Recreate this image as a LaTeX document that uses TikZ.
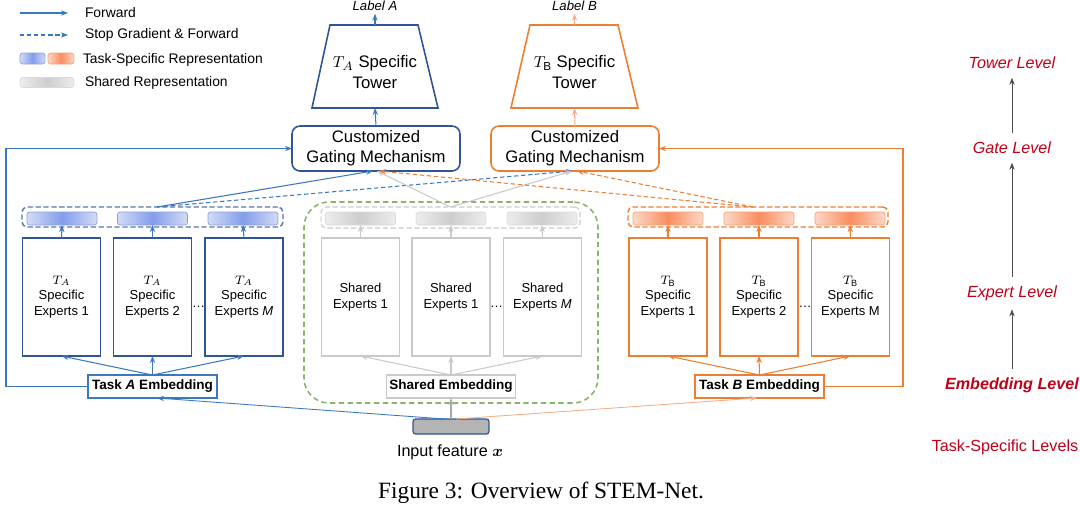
\documentclass[tikz,border=0pt]{standalone}
\usepackage{amsmath}
\usepackage{fontspec}
\setmainfont{Liberation Sans}
\newfontfamily\capfont{Liberation Serif}
\usetikzlibrary{shapes,shapes.geometric,arrows.meta}

\definecolor{blueL}{HTML}{3B78C2}
\definecolor{blueD}{HTML}{2F5597}
\definecolor{orgL}{HTML}{ED7D31}
\definecolor{orgP}{HTML}{F5AE85}
\definecolor{grayA}{HTML}{A9A9A9}
\definecolor{grayB}{HTML}{C9C9C9}
\definecolor{greenD}{HTML}{8CB369}
\definecolor{lvred}{HTML}{C00018}
\definecolor{repBlueE}{HTML}{D3DBF6}
\definecolor{repBlueM}{HTML}{829DEB}
\definecolor{repBlueB}{HTML}{8EA2D6}
\definecolor{repOrgE}{HTML}{FDD9C8}
\definecolor{repOrgM}{HTML}{FA8C5E}
\definecolor{repOrgB}{HTML}{F3A27A}
\definecolor{repGrayE}{HTML}{EDEDED}
\definecolor{repGrayM}{HTML}{CDCDCD}
\definecolor{repGrayB}{HTML}{D9D9D9}
\definecolor{inpFill}{HTML}{B4B4B4}

\begin{document}
\begin{tikzpicture}[x=0.02cm,y=-0.02cm]
	\tikzstyle{every node}=[inner sep=0pt, outer sep=0pt]
	\tikzstyle{fwd}=[-{Stealth[length=4pt,width=3pt]}, line width=0.6pt]
	\tikzstyle{sgf}=[fwd, dash pattern=on 2.5pt off 1.5pt]
	\tikzstyle{expbox}=[draw, line width=0.8pt, minimum width=1.56cm, minimum height=2.36cm, align=center, font=\fontsize{7.4}{9}\selectfont]
	\tikzstyle{repbox}=[draw, rounded corners=1.5pt, minimum width=1.4cm, minimum height=0.26cm, line width=0.4pt]
	\tikzstyle{grpbox}=[draw, rounded corners=0.1cm, dash pattern=on 3pt off 1.5pt, line width=0.8pt, minimum height=0.4cm]
	\tikzstyle{embbox}=[draw, fill=white, line width=0.8pt, minimum width=2.58cm, minimum height=0.46cm, font=\fontsize{7.7}{9}\selectfont\bfseries]
	\tikzstyle{gatebox}=[draw, line width=0.9pt, rounded corners=0.16cm, minimum width=3.36cm, minimum height=0.9cm, align=center, font=\fontsize{9.5}{11.5}\selectfont]
	\tikzstyle{towerbox}=[minimum width=2.52cm, minimum height=1.66cm]
	\tikzstyle{towerline}=[line width=0.9pt, line join=miter]
	\tikzstyle{towertxt}=[align=center, font=\fontsize{9.5}{11.5}\selectfont]
	\tikzstyle{legtxt}=[anchor=west, font=\fontsize{7.9}{9}\selectfont]
	\tikzstyle{lvl}=[text=lvred, font=\fontsize{9.2}{11}\selectfont\itshape]
	\tikzstyle{lvlarr}=[-{Stealth[length=4pt,width=3pt]}, line width=0.5pt, black!70, shorten <=5pt, shorten >=5pt]

	\useasboundingbox (0,0) rectangle (1080,512);

	%% legend
	\coordinate (lgA1) at (20,13);
	\coordinate (lgA2) at (68,13);
	\coordinate (lgB1) at (20,35);
	\coordinate (lgB2) at (68,35);
	\draw [fwd, blueL] (lgA1) -- (lgA2);
	\draw [sgf, blueL] (lgB1) -- (lgB2);
	\node [legtxt] (lgFwd) at (85,13) {Forward};
	\node [legtxt] (lgStop) at (85,35) {Stop Gradient \& Forward};
	\node [repbox, draw=repBlueB, left color=repBlueE, right color=repBlueE, middle color=repBlueM, minimum width=0.5cm, minimum height=0.22cm] (lgBlue) at (32.5,58.5) {};
	\node [repbox, draw=repOrgB, left color=repOrgE, right color=repOrgE, middle color=repOrgM, minimum width=0.52cm, minimum height=0.22cm] (lgOrg) at (61,58.5) {};
	\node [legtxt] (lgTask) at (83,59.5) {Task-Specific Representation};
	\node [repbox, draw=repGrayB, left color=repGrayE, right color=repGrayE, middle color=repGrayM, minimum width=1.08cm, minimum height=0.2cm] (lgGray) at (47,82.5) {};
	\node [legtxt] (lgShared) at (85,83) {Shared Representation};

	%% towers and gates
	\node [font=\fontsize{7.5}{9}\selectfont\itshape, anchor=base] (labA) at (375,10) {Label A};
	\node [font=\fontsize{7.5}{9}\selectfont\itshape, anchor=base] (labB) at (574.5,10) {Label B};
	\node [towerbox] (towerA) at (375,66.5) {};
	\draw [towerline, blueD] (330,25) -- (418,25) -- (438,108) -- (312,108) -- cycle;
	\node [towertxt] (towerAt) at (375,72) {$T_A$ Specific\\Tower};
	\node [towerbox] (towerB) at (574.5,66.5) {};
	\draw [towerline, orgL] (530,25) -- (618,25) -- (638,108) -- (511,108) -- cycle;
	\node [towertxt] (towerBt) at (574.5,72) {$T_{\mathrm{B}}$ Specific\\Tower};
	\node [gatebox, draw=blueD] (gateA) at (376,148.5) {Customized\\Gating Mechanism};
	\node [gatebox, draw=orgL] (gateB) at (575,148.5) {Customized\\Gating Mechanism};

	%% shared area
	\node [draw=greenD, dash pattern=on 3pt off 2pt, line width=0.9pt, rounded corners=0.5cm, minimum width=5.88cm, minimum height=4.02cm] (shArea) at (451,302.5) {};

	%% representation groups
	\node [grpbox, draw=blueD!80, minimum width=5.22cm] (grpA) at (152.5,217) {};
	\node [grpbox, draw=grayB, line width=0.6pt, minimum width=5.18cm, minimum height=0.42cm] (grpS) at (450.5,217.5) {};
	\node [grpbox, draw=orgL, minimum width=5.2cm] (grpB) at (758,217) {};

	\node [repbox, draw=repBlueB, left color=repBlueE, right color=repBlueE, middle color=repBlueM] (repA1) at (62,218.5) {};
	\node [repbox, draw=repBlueB, left color=repBlueE, right color=repBlueE, middle color=repBlueM] (repA2) at (152.5,218.5) {};
	\node [repbox, draw=repBlueB, left color=repBlueE, right color=repBlueE, middle color=repBlueM] (repA3) at (243,218.5) {};
	\node [repbox, draw=repGrayB, left color=repGrayE, right color=repGrayE, middle color=repGrayM] (repS1) at (360.5,218.5) {};
	\node [repbox, draw=repGrayB, left color=repGrayE, right color=repGrayE, middle color=repGrayM] (repS2) at (451,218.5) {};
	\node [repbox, draw=repGrayB, left color=repGrayE, right color=repGrayE, middle color=repGrayM] (repS3) at (542,218.5) {};
	\node [repbox, draw=repOrgB, left color=repOrgE, right color=repOrgE, middle color=repOrgM] (repB1) at (668,218.5) {};
	\node [repbox, draw=repOrgB, left color=repOrgE, right color=repOrgE, middle color=repOrgM] (repB2) at (759,218.5) {};
	\node [repbox, draw=repOrgB, left color=repOrgE, right color=repOrgE, middle color=repOrgM] (repB3) at (850,218.5) {};

	%% experts
	\node [expbox, draw=blueD] (expA1) at (61.5,297) {$T_A$\\Specific\\Experts 1};
	\node [expbox, draw=blueD] (expA2) at (152.5,297) {$T_A$\\Specific\\Experts 2};
	\node [expbox, draw=blueD] (expA3) at (244,297) {$T_A$\\Specific\\Experts \textit{M}};
	\node [expbox, draw=grayB] (expS1) at (360.5,297) {Shared\\Experts 1};
	\node [expbox, draw=grayB] (expS2) at (451,297) {Shared\\Experts 1};
	\node [expbox, draw=grayB] (expS3) at (542.5,297) {Shared\\Experts \textit{M}};
	\node [expbox, draw=orgL] (expB1) at (668,297) {$T_{\mathrm{B}}$\\Specific\\Experts 1};
	\node [expbox, draw=orgL] (expB2) at (759,297) {$T_{\mathrm{B}}$\\Specific\\Experts 2};
	\node [expbox, draw=orgL] (expB3) at (850.5,297) {$T_{\mathrm{B}}$\\Specific\\Experts M};
	\node [font=\fontsize{7.4}{8.8}\selectfont] (dotsA) at (198.5,307) {\dots};
	\node [font=\fontsize{7.4}{8.8}\selectfont] (dotsS) at (496.5,307) {\dots};
	\node [font=\fontsize{7.4}{8.8}\selectfont] (dotsB) at (805,307) {\dots};

	%% embeddings and input
	\node [embbox, draw=blueL] (embA) at (152.5,386.5) {Task \textit{A} Embedding};
	\node [embbox, draw=grayB] (embS) at (451,386.5) {Shared Embedding};
	\node [embbox, draw=orgL] (embB) at (759.5,386.5) {Task \textit{B} Embedding};
	\node [draw=blueD, fill=inpFill, rounded corners=1.5pt, line width=0.7pt, minimum width=1.52cm, minimum height=0.3cm] (inp) at (451,426.5) {};
	\node [font=\fontsize{9.2}{11}\selectfont] (inpTxt) at (450,452) {Input feature $\boldsymbol{x}$};

	%% levels
	\node [lvl] (lvT) at (1012,63) {Tower Level};
	\node [lvl] (lvG) at (1012,148) {Gate Level};
	\node [lvl] (lvX) at (1012,293) {Expert Level};
	\node [lvl, font=\fontsize{9.2}{11}\selectfont\bfseries\itshape] (lvE) at (1012,385) {Embedding Level};
	\node [lvl, font=\fontsize{9.2}{11}\selectfont] (lvS) at (1005,447) {Task-Specific Levels};
	\draw [lvlarr] (lvG) -- (lvT);
	\draw [lvlarr] (lvX) -- (lvG);
	\draw [lvlarr] (lvE) -- (lvX);

	%% caption
	\node [font=\capfont\fontsize{13.3}{15}\selectfont] (cap) at (541,493) {Figure 3: Overview of STEM-Net.};

	%% input to embeddings
	\draw [fwd, grayA] (inp.north) -- (embS.south);
	\draw [fwd, blueL, line width=0.5pt] ([xshift=-0.12cm]inp.north) -- ([xshift=0.09cm]embA.south);
	\draw [fwd, orgP, line width=0.5pt] ([xshift=0.1cm]inp.north) -- ([xshift=-0.05cm]embB.south);

	%% embeddings to experts
	\draw [fwd, blueL] (embA.north) -- (expA1.south);
	\draw [fwd, blueL] (embA.north) -- (expA2.south);
	\draw [fwd, blueL] (embA.north) -- (expA3.south);
	\draw [fwd, grayB] (embS.north) -- (expS1.south);
	\draw [fwd, grayB] (embS.north) -- (expS2.south);
	\draw [fwd, grayB] (embS.north) -- (expS3.south);
	\draw [fwd, orgL] (embB.north) -- (expB1.south);
	\draw [fwd, orgL] (embB.north) -- (expB2.south);
	\draw [fwd, orgL] (embB.north) -- (expB3.south);

	%% experts to representations
	\draw [fwd, blueL] (expA1.north) -- (repA1.south);
	\draw [fwd, blueL] (expA2.north) -- (repA2.south);
	\draw [fwd, blueL] (expA3.north) -- (repA3.south);
	\draw [fwd, grayB] (expS1.north) -- (repS1.south);
	\draw [fwd, grayB] (expS2.north) -- (repS2.south);
	\draw [fwd, grayB] (expS3.north) -- (repS3.south);
	\draw [fwd, orgL] (expB1.north) -- (repB1.south);
	\draw [fwd, orgL] (expB2.north) -- (repB2.south);
	\draw [fwd, orgL] (expB3.north) -- (repB3.south);

	%% representations to gates
	\draw [fwd, blueL] ([xshift=0.09cm]grpA.north) -- ([xshift=-0.06cm]gateA.south);
	\draw [sgf, blueL] ([xshift=0.09cm]grpA.north) -- ([xshift=-0.04cm]gateB.south);
	\draw [fwd, grayB] (grpS.north) -- ([xshift=0.02cm]gateA.south);
	\draw [fwd, grayB] (grpS.north) -- ([xshift=-0.06cm]gateB.south);
	\draw [sgf, orgL] ([xshift=-0.1cm]grpB.north) -- ([xshift=0.06cm]gateA.south);
	\draw [sgf, orgL] ([xshift=-0.1cm]grpB.north) -- ([xshift=0.04cm]gateB.south);

	%% embeddings straight to gates
	\coordinate (loopA) at (6,148.5);
	\coordinate (loopB) at (903,148.5);
	\draw [fwd, blueL] (embA.west) -| (loopA) -- (gateA.west);
	\draw [fwd, orgL] (embB.east) -| (loopB) -- (gateB.east);

	%% gates to towers to labels
	\draw [fwd, blueL] (gateA.north) -- (towerA.south);
	\draw [fwd, orgP] (gateB.north) -- (towerB.south);
	\draw [fwd, blueL] (towerA.north) -- ([yshift=-2pt]labA.south);
	\draw [fwd, orgP] (towerB.north) -- ([yshift=-2pt]labB.south);

\end{tikzpicture}
\end{document}
